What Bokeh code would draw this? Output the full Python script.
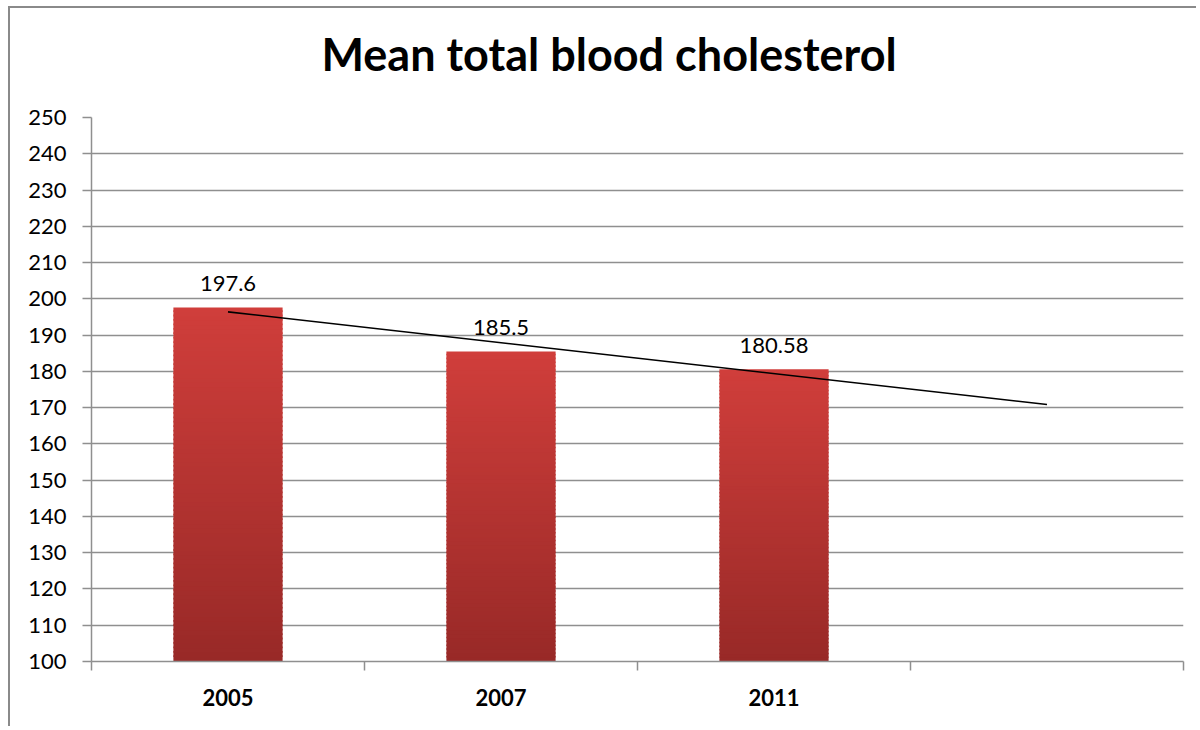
import numpy as np
from bokeh.plotting import figure
from bokeh.models import Range1d, FixedTicker, Title
from bokeh.core.properties import value
from bokeh.embed import file_html
from bokeh.resources import INLINE

# ---- data ----
years = ["2005", "2007", "2011"]
means = [197.6, 185.5, 180.58]
label_texts = ["197.6", "185.5", "180.58"]
n_categories = 4          # Excel chart has a 4th (empty) category
y_ticks = list(range(100, 251, 10))
title_text = "Mean total blood cholesterol"

FONT = "Lato"
GRID = "#8f8f8f"

x_pos = np.arange(1, len(years) + 1)

p = figure(width=1188, height=720, output_backend="svg", toolbar_location=None,
           x_range=Range1d(0.5, n_categories + 0.5), y_range=Range1d(100, 250),
           min_border_left=81, min_border_right=15, min_border_top=109, min_border_bottom=67,
           tools="")
p.styles = {"border-left": "2px solid #8a8a8a", "border-top": "2px solid #8a8a8a",
            "margin-left": "8px", "margin-top": "6px"}
p.outline_line_color = None
p.background_fill_color = "white"
p.border_fill_color = "white"

# spacer (nearest to the frame) then the real title
p.add_layout(Title(text=" ", text_font=FONT, text_font_size="22px", standoff=3), "above")
p.add_layout(Title(text=title_text, text_font=FONT, text_font_size="45px",
                   text_font_style="bold", text_color="black", align="left",
                   offset=230, standoff=10), "above")

# ---- bars with vertical gradient (sliced) ----
top_c = np.array([0xD0, 0x3E, 0x3B])
bot_c = np.array([0x98, 0x29, 0x27])
N = 80
lefts, rights, bottoms, tops, colors = [], [], [], [], []
for xi, v in zip(x_pos, means):
    edges = 100 + (v - 100) * np.arange(N + 1) / N
    for k in range(N):
        f = (k + 0.5) / N
        c = bot_c + (top_c - bot_c) * f
        colors.append("#%02x%02x%02x" % tuple(int(round(t)) for t in c))
        lefts.append(xi - 0.2)
        rights.append(xi + 0.2)
        bottoms.append(edges[k])
        tops.append(min(edges[k + 1] + (v - 100) / N * 0.4, v))
p.quad(left=lefts, right=rights, bottom=bottoms, top=tops, fill_color=colors,
       line_color=None)

# ---- linear trendline (least squares, forecast 1 period forward) ----
slope, intercept = np.polyfit(x_pos, means, 1)
tx = np.array([1, n_categories])
p.line(tx, slope * tx + intercept, line_color="black", line_width=1.6)

# ---- data labels ----
p.text(x=x_pos, y=means, text=label_texts, text_font=value(FONT), text_font_size="22px",
       text_align="center", text_baseline="middle", y_offset=-24, text_color="black")

# ---- axes ----
p.xaxis.ticker = FixedTicker(ticks=list(x_pos),
                             minor_ticks=[i + 0.5 for i in range(n_categories + 1)])
p.xaxis.major_label_overrides = {int(x): y for x, y in zip(x_pos, years)}
p.xaxis.major_tick_line_color = None
p.xaxis.minor_tick_out = 9
p.xaxis.minor_tick_in = 0
p.xaxis.minor_tick_line_color = GRID
p.xaxis.minor_tick_line_width = 1.5
p.xaxis.axis_line_color = GRID
p.xaxis.axis_line_width = 1.5
p.xaxis.major_label_text_font = FONT
p.xaxis.major_label_text_font_size = "22px"
p.xaxis.major_label_text_font_style = "bold"
p.xaxis.major_label_text_color = "black"
p.xaxis.major_label_standoff = 18

p.yaxis.ticker = FixedTicker(ticks=y_ticks, minor_ticks=[])
p.yaxis.major_tick_out = 9
p.yaxis.major_tick_in = 0
p.yaxis.major_tick_line_color = GRID
p.yaxis.major_tick_line_width = 1.5
p.yaxis.axis_line_color = GRID
p.yaxis.axis_line_width = 1.5
p.yaxis.major_label_text_font = FONT
p.yaxis.major_label_text_font_size = "22px"
p.yaxis.major_label_text_color = "black"
p.yaxis.major_label_standoff = 16

p.xgrid.grid_line_color = None
p.ygrid.grid_line_color = GRID
p.ygrid.grid_line_width = 1.5

open("out.html", "w").write(file_html(p, INLINE))
